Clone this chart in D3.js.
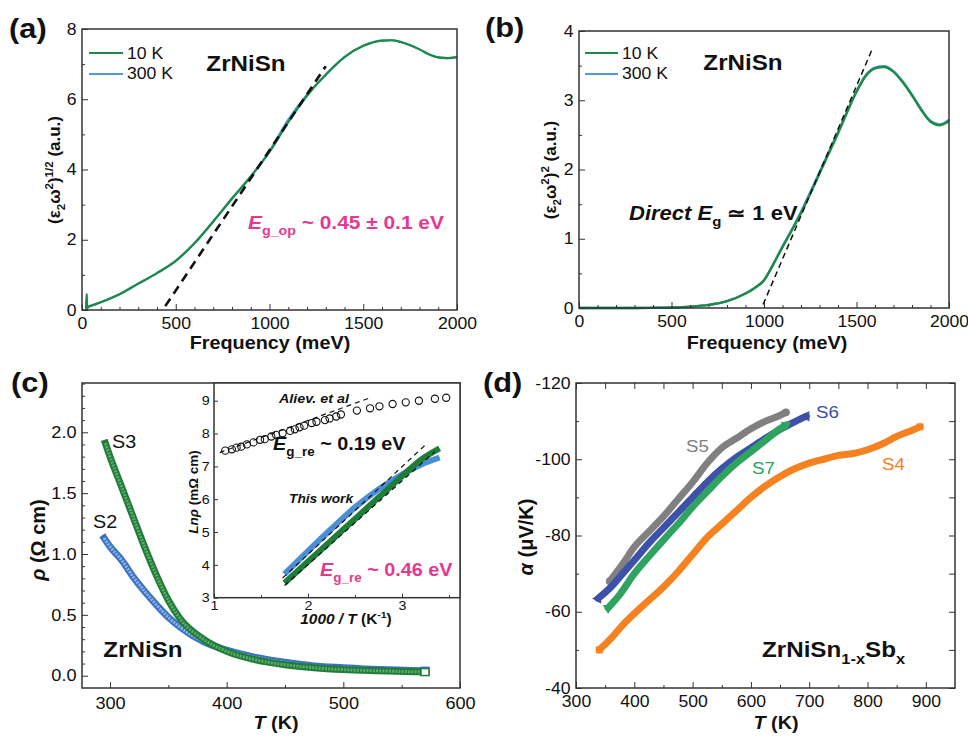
<!DOCTYPE html>
<html>
<head>
<meta charset="utf-8">
<script src="https://cdn.jsdelivr.net/npm/d3@7"></script>
<style>
  body { margin: 0; background: #fff; }
  svg { display: block; }
</style>
</head>
<body>
<div id="chart"></div>
<script>
// ---- data ----
// (a) (eps2 w^2)^1/2 vs frequency
var freqA = [22, 25, 27, 30, 60, 100, 200, 300, 400, 500, 600, 700, 800, 900, 1000, 1100, 1200, 1300, 1400, 1500, 1600, 1650, 1700, 1800, 1850, 1900, 1950, 2000];
var a10K  = [0, 0.45, 0.02, 0.08, 0.14, 0.22, 0.45, 0.75, 1.05, 1.4, 1.9, 2.52, 3.18, 3.8, 4.5, 5.35, 6.1, 6.7, 7.2, 7.52, 7.67, 7.68, 7.63, 7.42, 7.28, 7.19, 7.17, 7.2];
var a300K = [0, 0.45, 0.02, 0.08, 0.14, 0.22, 0.45, 0.75, 1.05, 1.4, 1.9, 2.52, 3.16, 3.8, 4.52, 5.42, 6.13, 6.7, 7.2, 7.52, 7.67, 7.68, 7.63, 7.42, 7.28, 7.19, 7.17, 7.2];
var fitA = [[444, 0.11], [1300, 6.94]];

// (b) (eps2 w^2)^2 vs frequency
var freqB = [0, 100, 200, 300, 400, 500, 600, 700, 800, 900, 950, 1000, 1050, 1100, 1150, 1200, 1300, 1400, 1500, 1550, 1600, 1650, 1700, 1750, 1800, 1850, 1900, 1950, 2000];
var b10K  = [0, 0, 0, 0, 0.003, 0.008, 0.02, 0.045, 0.1, 0.21, 0.29, 0.4, 0.63, 0.88, 1.12, 1.37, 1.94, 2.52, 3.12, 3.35, 3.46, 3.48, 3.41, 3.26, 3.07, 2.86, 2.69, 2.64, 2.7];
var b300K = [0, 0, 0, 0, 0.003, 0.008, 0.02, 0.045, 0.1, 0.21, 0.29, 0.4, 0.63, 0.89, 1.13, 1.39, 1.96, 2.54, 3.13, 3.36, 3.47, 3.49, 3.42, 3.27, 3.08, 2.87, 2.7, 2.65, 2.72];
var fitB = [[995, 0.05], [1590, 3.77]];

// (c) resistivity vs T
var tS2   = [295, 300, 310, 320, 330, 340, 350, 360, 380, 400, 425, 450, 475, 500, 530, 570];
var rhoS2 = [1.13, 1.06, 0.95, 0.81, 0.69, 0.58, 0.48, 0.40, 0.28, 0.21, 0.15, 0.11, 0.08, 0.065, 0.05, 0.04];
var tS3   = [296, 300, 310, 320, 330, 340, 350, 360, 380, 400, 425, 450, 475, 500, 530, 570];
var rhoS3 = [1.91, 1.8, 1.55, 1.3, 1.05, 0.82, 0.62, 0.47, 0.3, 0.2, 0.13, 0.09, 0.065, 0.05, 0.04, 0.03];

// (c) inset: ln(rho) vs 1000/T
var invAliev = [1.12, 1.19, 1.24, 1.29, 1.35, 1.42, 1.49, 1.54, 1.61, 1.66, 1.73, 1.81, 1.86, 1.91, 1.96, 2.04, 2.09, 2.18, 2.23, 2.30, 2.35, 2.52, 2.66, 2.76, 2.9, 3.04, 3.18, 3.35, 3.47];
var lnAliev  = [7.48, 7.52, 7.57, 7.60, 7.67, 7.73, 7.81, 7.83, 7.91, 7.96, 8.01, 8.08, 8.13, 8.19, 8.24, 8.32, 8.36, 8.41, 8.46, 8.52, 8.58, 8.7, 8.77, 8.83, 8.9, 8.95, 9.0, 9.06, 9.09];
var fitAliev = [[1.06, 7.42], [2.67, 9.1]];
var invWork = [1.75, 2.0, 2.25, 2.5, 2.75, 3.0, 3.2, 3.4];
var lnS2    = [3.72, 4.42, 5.1, 5.75, 6.3, 6.75, 7.05, 7.27];
var lnS3    = [3.45, 4.1, 4.75, 5.4, 6.05, 6.7, 7.2, 7.55];
var fitS2   = [[1.73, 3.6], [3.24, 7.63]];
var fitS3   = [[1.75, 3.37], [3.35, 7.45]];

// (d) Seebeck vs T
var tS4 = [340, 360, 380, 400, 425, 450, 475, 500, 525, 550, 575, 600, 625, 650, 675, 700, 725, 750, 775, 800, 825, 850, 875, 890];
var aS4 = [-50, -53, -56.5, -59.5, -63, -66.5, -70.5, -75, -79.5, -83, -86.5, -90, -93, -95.5, -97.5, -99, -100, -101, -101.5, -102.5, -104, -106, -107.5, -108.5];
var tS5 = [358, 380, 400, 425, 450, 475, 500, 525, 550, 575, 600, 625, 650, 660];
var aS5 = [-68, -72.5, -77, -81, -85, -89.5, -94, -99, -103, -105.5, -108, -110, -111.5, -112.3];
var tS6 = [338, 360, 380, 400, 425, 450, 475, 500, 525, 550, 575, 600, 625, 650, 675, 695];
var aS6 = [-63.5, -66.5, -70, -73.5, -78, -82, -86, -90, -94, -97.5, -100.5, -103, -105.5, -107.8, -109.8, -111.3];
var tS7 = [355, 375, 400, 425, 450, 475, 500, 525, 550, 575, 600, 625, 650, 660];
var aS7 = [-61, -64.5, -70, -74.5, -78.8, -83, -87.5, -91.5, -95.5, -99, -102, -105, -108, -109];

// ---- drawing ----
var FONT = "'Liberation Sans', Arial, Helvetica, sans-serif";
var SX = 1.1; // glyphs in the reference are a little wider than normal
var INK = "#111";
var PINK = "#e5388f";

var svg = d3.select("#chart").append("svg")
  .attr("width", 968).attr("height", 736)
  .attr("font-family", FONT);

function zip(xs, ys) { return xs.map(function(d, i) { return [d, ys[i]]; }); }

function rtext(parent, x, y, parts, o) {
  var tr = o.rotate ? "translate(" + x + "," + y + ") rotate(-90)" : "translate(" + x + "," + y + ") scale(" + SX + ",1)";
  var t = parent.append("text")
    .attr("transform", tr)
    .attr("font-size", o.size)
    .attr("font-weight", o.weight || "normal")
    .attr("fill", o.fill || INK)
    .attr("text-anchor", o.anchor || "start");
  var shift = 0;
  parts.forEach(function(p) {
    if (typeof p === "string") p = { t: p };
    var s = p.sub ? o.size * 0.32 : p.sup ? -o.size * 0.42 : 0;
    var ts = t.append("tspan").text(p.t).attr("dy", s - shift);
    if (p.sub || p.sup) ts.attr("font-size", o.size * 0.68);
    if (p.it) ts.attr("font-style", "italic");
    shift = s;
  });
  return t;
}

function styleTicks(sel, fs) {
  sel.attr("font-family", FONT).attr("font-size", fs);
  sel.select(".domain").remove();
  sel.selectAll("text").attr("fill", INK).attr("font-size", fs).attr("transform", "scale(" + SX + ",1)");
}

function axes(g, x, y, o) {
  var xr = x.range(), yr = y.range();
  var fs = o.fs || 16;
  var tk = o.tick || 6, mn = o.minor || 3;
  g.append("g").attr("transform", "translate(0," + yr[0] + ")").attr("color", "#333")
    .call(d3.axisBottom(x).tickValues(o.xMajor).tickSizeInner(-tk).tickSizeOuter(0).tickPadding(o.pad || 8).tickFormat(o.xFmt || String))
    .call(styleTicks, fs);
  if (o.xMinor) {
    g.append("g").attr("transform", "translate(0," + yr[0] + ")").attr("color", "#333")
      .call(d3.axisBottom(x).tickValues(o.xMinor).tickSize(-mn).tickFormat(""))
      .select(".domain").remove();
  }
  g.append("g").attr("transform", "translate(" + xr[0] + ",0)").attr("color", "#333")
    .call(d3.axisLeft(y).tickValues(o.yMajor).tickSizeInner(-tk).tickSizeOuter(0).tickPadding(o.padY || 5).tickFormat(o.yFmt || String))
    .call(styleTicks, fs);
  if (o.yMinor) {
    g.append("g").attr("transform", "translate(" + xr[0] + ",0)").attr("color", "#333")
      .call(d3.axisLeft(y).tickValues(o.yMinor).tickSize(-mn).tickFormat(""))
      .select(".domain").remove();
  }
  if (o.mirror) {
    g.append("g").attr("transform", "translate(0," + yr[1] + ")").attr("color", "#333")
      .call(d3.axisTop(x).tickValues(o.xMajor.concat(o.xMinor || [])).tickSize(-tk).tickFormat(""))
      .select(".domain").remove();
    g.append("g").attr("transform", "translate(" + xr[1] + ",0)").attr("color", "#333")
      .call(d3.axisRight(y).tickValues(o.yMajor.concat(o.yMinor || [])).tickSize(-tk).tickFormat(""))
      .select(".domain").remove();
  }
  g.append("rect")
    .attr("x", xr[0]).attr("y", yr[1])
    .attr("width", xr[1] - xr[0]).attr("height", yr[0] - yr[1])
    .attr("fill", "none").attr("stroke", "#333").attr("stroke-width", 1.5);
}

function range(a, b, step) { return d3.range(a, b + step / 2, step); }

// ===== (a) =====
var gA = svg.append("g");
var xA = d3.scaleLinear().domain([0, 2000]).range([82, 457]);
var yA = d3.scaleLinear().domain([0, 8]).range([310, 29]);
var lineA = d3.line().x(function(d) { return xA(d[0]); }).y(function(d) { return yA(d[1]); }).curve(d3.curveMonotoneX);
gA.append("path").datum(zip(freqA, a300K)).attr("d", lineA).attr("fill", "none").attr("stroke", "#4a9be0").attr("stroke-width", 2.2);
gA.append("path").datum(zip(freqA, a10K)).attr("d", lineA).attr("fill", "none").attr("stroke", "#1f8a46").attr("stroke-width", 2.2);
gA.append("path").datum(fitA).attr("d", d3.line().x(function(d) { return xA(d[0]); }).y(function(d) { return yA(d[1]); }))
  .attr("fill", "none").attr("stroke", "#111").attr("stroke-width", 2.6).attr("stroke-dasharray", "9,6");
axes(gA, xA, yA, { xMajor: [0, 500, 1000, 1500, 2000], xMinor: range(100, 1900, 100).filter(function(v) { return v % 500; }),
  yMajor: [0, 2, 4, 6, 8], yMinor: [1, 3, 5, 7] });

// ===== (b) =====
var gB = svg.append("g");
var xB = d3.scaleLinear().domain([0, 2000]).range([579, 949]);
var yB = d3.scaleLinear().domain([0, 4]).range([308, 31]);
var lineB = d3.line().x(function(d) { return xB(d[0]); }).y(function(d) { return yB(d[1]); }).curve(d3.curveMonotoneX);
gB.append("path").datum(zip(freqB, b300K)).attr("d", lineB).attr("fill", "none").attr("stroke", "#4a9be0").attr("stroke-width", 2.4);
gB.append("path").datum(zip(freqB, b10K)).attr("d", lineB).attr("fill", "none").attr("stroke", "#1f8a46").attr("stroke-width", 2.4);
gB.append("path").datum(fitB).attr("d", d3.line().x(function(d) { return xB(d[0]); }).y(function(d) { return yB(d[1]); }))
  .attr("fill", "none").attr("stroke", "#111").attr("stroke-width", 1.5).attr("stroke-dasharray", "6,4");
axes(gB, xB, yB, { xMajor: [0, 500, 1000, 1500, 2000], xMinor: range(100, 1900, 100).filter(function(v) { return v % 500; }),
  yMajor: [0, 1, 2, 3, 4], yMinor: [0.5, 1.5, 2.5, 3.5] });

// legends (a)/(b)
[[89, 123, 127], [585, 618, 622]].forEach(function(p) {
  svg.append("line").attr("x1", p[0]).attr("x2", p[1]).attr("y1", 53).attr("y2", 53).attr("stroke", "#1f8a46").attr("stroke-width", 2.2);
  svg.append("line").attr("x1", p[0]).attr("x2", p[1]).attr("y1", 74).attr("y2", 74).attr("stroke", "#4a9be0").attr("stroke-width", 2.2);
  rtext(svg, p[2], 59, ["10 K"], { size: 16 });
  rtext(svg, p[2], 79, ["300 K"], { size: 16 });
});
rtext(svg, 246, 71, ["ZrNiSn"], { size: 22, weight: "bold", anchor: "middle" });
rtext(svg, 743, 70, ["ZrNiSn"], { size: 22, weight: "bold", anchor: "middle" });
rtext(svg, 248, 229, [{ t: "E", it: true }, { t: "g_op", sub: true }, " ~ 0.45 \u00b1 0.1 eV"], { size: 19, weight: "bold", fill: PINK });
rtext(svg, 629, 220, [{ t: "Direct E", it: true }, { t: "g", sub: true }, " \u2243 1 eV"], { size: 20, weight: "bold" });

rtext(svg, 270, 349, ["Frequency (meV)"], { size: 18, weight: "bold", anchor: "middle" });
rtext(svg, 767, 349, ["Frequency (meV)"], { size: 18, weight: "bold", anchor: "middle" });
rtext(svg, 60, 170, ["(\u03b5", { t: "2", sub: true }, "\u03c9", { t: "2", sup: true }, ")", { t: "1/2", sup: true }, " (a.u.)"], { size: 17, weight: "bold", anchor: "middle", rotate: true });
rtext(svg, 556, 170, ["(\u03b5", { t: "2", sub: true }, "\u03c9", { t: "2", sup: true }, ")", { t: "2", sup: true }, " (a.u.)"], { size: 17, weight: "bold", anchor: "middle", rotate: true });

// ===== (c) =====
var gC = svg.append("g");
var xC = d3.scaleLinear().domain([276, 600]).range([82, 460]);
var yC = d3.scaleLinear().domain([-0.101, 2.405]).range([688, 383]);
var lineC = d3.line().x(function(d) { return xC(d[0]); }).y(function(d) { return yC(d[1]); }).curve(d3.curveMonotoneX);
[[zip(tS2, rhoS2), "#3b73c4", "#93b4e3"], [zip(tS3, rhoS3), "#1e7d36", "#62a870"]].forEach(function(s) {
  gC.append("path").datum(s[0]).attr("d", lineC).attr("fill", "none").attr("stroke", s[1]).attr("stroke-width", 7).attr("stroke-linecap", "square");
  gC.append("path").datum(s[0]).attr("d", lineC).attr("fill", "none").attr("stroke", s[2]).attr("stroke-width", 3).attr("stroke-dasharray", "2,1.2");
  var last = s[0][s[0].length - 1];
  gC.append("rect").attr("x", xC(last[0]) - 4).attr("y", yC(last[1]) - 3.5).attr("width", 8).attr("height", 7)
    .attr("fill", "#fff").attr("stroke", s[1]).attr("stroke-width", 1.5);
});
axes(gC, xC, yC, { xMajor: [300, 400, 500, 600], xMinor: [350, 450, 550], yMajor: [0, 0.5, 1, 1.5, 2],
  yMinor: range(0.1, 2.4, 0.1).filter(function(v) { return Math.abs(v * 2 - Math.round(v * 2)) > 1e-6; }),
  yFmt: d3.format(".1f"), fs: 16.5, pad: 9 });
rtext(svg, 112, 448, ["S3"], { size: 18 });
rtext(svg, 93, 528, ["S2"], { size: 18 });
rtext(svg, 143, 657, ["ZrNiSn"], { size: 22, weight: "bold", anchor: "middle" });
rtext(svg, 276, 729, [{ t: "T", it: true }, " (K)"], { size: 18, weight: "bold", anchor: "middle" });
rtext(svg, 45, 540, [{ t: "\u03c1", it: true }, " (\u03a9 cm)"], { size: 20, weight: "bold", anchor: "middle", rotate: true });

// inset
var gI = svg.append("g");
var xI = d3.scaleLinear().domain([1, 3.617]).range([214, 460]);
var yI = d3.scaleLinear().domain([3, 9.54]).range([597.7, 383]);
gI.append("rect").attr("x", 214).attr("y", 383).attr("width", 246).attr("height", 214.7).attr("fill", "#fff");
var lineI = d3.line().x(function(d) { return xI(d[0]); }).y(function(d) { return yI(d[1]); });
gI.append("path").datum(zip(invWork, lnS2)).attr("d", lineI.curve(d3.curveMonotoneX)).attr("fill", "none").attr("stroke", "#4a8fd6").attr("stroke-width", 6);
gI.append("path").datum(zip(invWork, lnS3)).attr("d", lineI.curve(d3.curveMonotoneX)).attr("fill", "none").attr("stroke", "#1e7d36").attr("stroke-width", 6);
lineI.curve(d3.curveLinear);
[fitAliev, fitS2, fitS3].forEach(function(f) {
  gI.append("path").datum(f).attr("d", lineI).attr("fill", "none").attr("stroke", "#111").attr("stroke-width", 1.2).attr("stroke-dasharray", "5,4");
});
gI.selectAll("circle.al").data(zip(invAliev, lnAliev)).enter().append("circle")
  .attr("cx", function(d) { return xI(d[0]); }).attr("cy", function(d) { return yI(d[1]); })
  .attr("r", 3.6).attr("fill", "none").attr("stroke", "#111").attr("stroke-width", 1.1);
axes(gI, xI, yI, { xMajor: [1, 2, 3], xMinor: [1.5, 2.5, 3.5], yMajor: [3, 4, 5, 6, 7, 8, 9], fs: 13, tick: 4, minor: 2.5, pad: 3, padY: 4 });
rtext(svg, 279, 403, ["Aliev. et al"], { size: 13, weight: "bold", fill: INK }).attr("font-style", "italic");
rtext(svg, 273, 450, [{ t: "E", it: true }, { t: "g_re", sub: true }, " ~ 0.19 eV"], { size: 18, weight: "bold" });
rtext(svg, 289, 503, ["This work"], { size: 12.5, weight: "bold" }).attr("font-style", "italic");
rtext(svg, 320, 576, [{ t: "E", it: true }, { t: "g_re", sub: true }, " ~ 0.46 eV"], { size: 18, weight: "bold", fill: PINK });
rtext(svg, 346, 624, [{ t: "1000 / T", it: true }, " (K", { t: "-1", sup: true }, ")"], { size: 14, weight: "bold", anchor: "middle" });
rtext(svg, 198, 492, [{ t: "Ln\u03c1", it: true }, " (m\u03a9 cm)"], { size: 13.5, weight: "bold", anchor: "middle", rotate: true });

// ===== (d) =====
var gD = svg.append("g");
var xD = d3.scaleLinear().domain([300, 950]).range([576, 955]);
var yD = d3.scaleLinear().domain([-40, -120]).range([688, 383]);
var lineD = d3.line().x(function(d) { return xD(d[0]); }).y(function(d) { return yD(d[1]); }).curve(d3.curveMonotoneX);
var seriesD = [
  { t: tS5, a: aS5, c: "#808080", sym: d3.symbolCircle },
  { t: tS6, a: aS6, c: "#3d50aa", sym: d3.symbolTriangle, rot: -90 },
  { t: tS7, a: aS7, c: "#2fa35f", sym: d3.symbolTriangle, rot: 180 },
  { t: tS4, a: aS4, c: "#f58220", sym: d3.symbolSquare }
];
seriesD.forEach(function(s) {
  var pts = zip(s.t, s.a);
  gD.append("path").datum(pts).attr("d", lineD).attr("fill", "none").attr("stroke", s.c).attr("stroke-width", 7).attr("stroke-linecap", "round");
  [pts[0], pts[pts.length - 1]].forEach(function(p) {
    gD.append("path").attr("d", d3.symbol().type(s.sym).size(48))
      .attr("transform", "translate(" + xD(p[0]) + "," + yD(p[1]) + ") rotate(" + (s.rot || 0) + ")")
      .attr("fill", s.c);
  });
});
axes(gD, xD, yD, { xMajor: [300, 400, 500, 600, 700, 800, 900], xMinor: [350, 450, 550, 650, 750, 850],
  yMajor: [-40, -60, -80, -100, -120], yMinor: [-50, -70, -90, -110], mirror: true });
rtext(svg, 686, 452, ["S5"], { size: 17, fill: "#808080" });
rtext(svg, 816, 418, ["S6"], { size: 17, fill: "#3d50aa" });
rtext(svg, 752, 474, ["S7"], { size: 17, fill: "#2fa35f" });
rtext(svg, 882, 470, ["S4"], { size: 17, fill: "#f58220" });
rtext(svg, 762, 657, ["ZrNiSn", { t: "1-x", sub: true }, "Sb", { t: "x", sub: true }], { size: 22, weight: "bold" });
rtext(svg, 776, 729, [{ t: "T", it: true }, " (K)"], { size: 18, weight: "bold", anchor: "middle" });
rtext(svg, 533, 537, [{ t: "\u03b1", it: true }, " (\u03bcV/K)"], { size: 20, weight: "bold", anchor: "middle", rotate: true });

// panel letters
rtext(svg, 9, 38, ["(a)"], { size: 28, weight: "bold" });
rtext(svg, 485, 37, ["(b)"], { size: 28, weight: "bold" });
rtext(svg, 11, 392, ["(c)"], { size: 28, weight: "bold" });
rtext(svg, 483, 392, ["(d)"], { size: 28, weight: "bold" });
</script>
</body>
</html>
